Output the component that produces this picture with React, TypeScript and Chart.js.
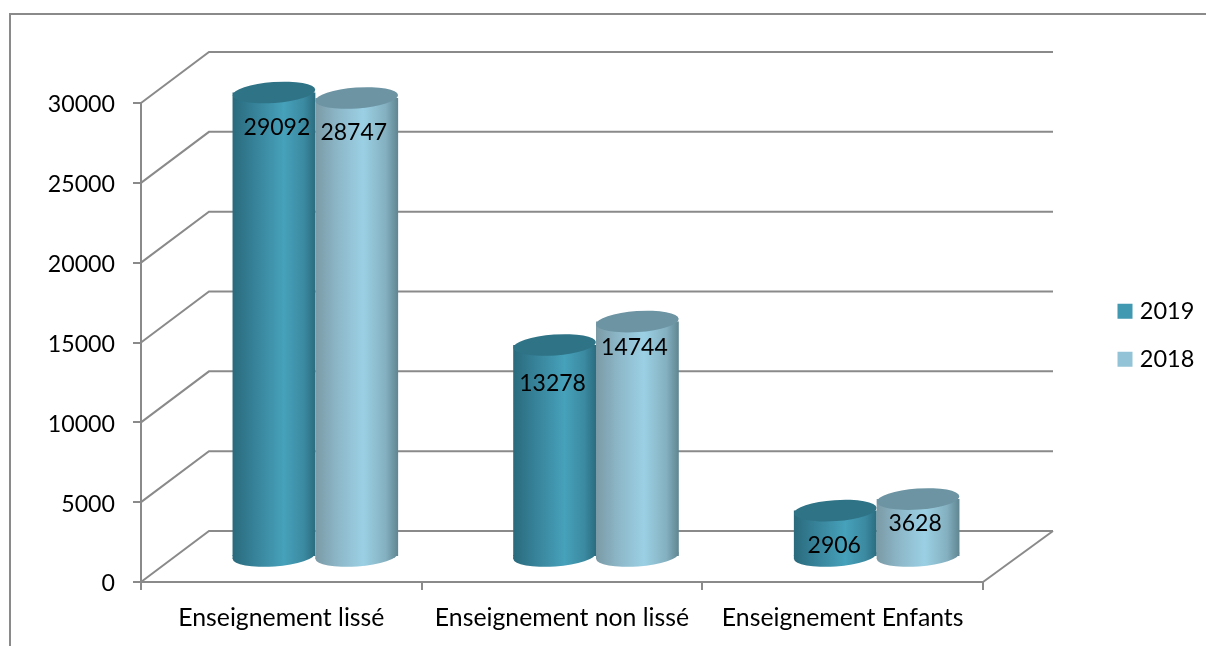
import React, { useEffect, useRef } from "react";
import { Chart, registerables } from "chart.js";

Chart.register(...registerables);

const categories = ["Enseignement lissé", "Enseignement non lissé", "Enseignement Enfants"];
const values2019 = [29092, 13278, 2906];
const values2018 = [28747, 14744, 3628];
const seriesNames = ["2019", "2018"];

const FONT = "Lato, Carlito, sans-serif";
const LINE = "#8a8a8a";
const DEPTH = { x: 68, y: -51 };
const FLOOR_RIGHT_X = 70;
const BAR_SHIFT = { x: 34, y: -25 };
const RY = 10.5;
const TILT = -0.07;
// Nudges of the value labels relative to the top of each cylinder
const labelNudge = [
  [[3, 35], [-2, 39], [-1, 35]],
  [[-3, 35], [-3, 26], [-3, 25]],
];
const palettes = [
  { solid: "#4198b1", top: "#2f7386", stops: [[0, "#2a6a7d"], [0.3, "#38859c"], [0.62, "#46a1ba"], [0.86, "#3b8aa1"], [1, "#2b6c7f"]] },
  { solid: "#93c3d6", top: "#6c94a3", stops: [[0, "#7b9aa6"], [0.28, "#8db8c9"], [0.58, "#9bd0e4"], [0.85, "#84b0c0"], [1, "#5f8591"]] },
];

function gradientFor(ctx: CanvasRenderingContext2D, left: number, right: number, ds: number) {
  const g = ctx.createLinearGradient(left, 0, right, 0);
  palettes[ds].stops.forEach(([o, c]) => g.addColorStop(o as number, c as string));
  return g;
}

const scenePlugin = {
  id: "scene",
  afterLayout(chart: any) {
    const lg = chart.legend;
    if (lg) {
      const w = lg.width, h = lg.height;
      lg.left = 1097.5;
      lg.right = 1097.5 + w;
      lg.top = 275;
      lg.bottom = 275 + h;
    }
  },
  beforeDraw(chart: any) {
    const c = chart.ctx;
    c.save();
    c.strokeStyle = LINE;
    c.lineWidth = 2;
    c.beginPath();
    c.moveTo(10, 646);
    c.lineTo(10, 14);
    c.lineTo(1206, 14);
    c.stroke();
    c.restore();
  },
  beforeDatasetsDraw(chart: any) {
    const c = chart.ctx;
    const { x: xs, y: ys } = chart.scales;
    // back wall gridlines and floor, from the value axis
    c.save();
    c.strokeStyle = LINE;
    c.lineWidth = 2;
    ys.ticks.forEach((t: any) => {
      const y = ys.getPixelForValue(t.value);
      c.beginPath();
      c.moveTo(xs.left, y);
      c.lineTo(xs.left + DEPTH.x, y + DEPTH.y);
      c.lineTo(xs.right + FLOOR_RIGHT_X, y + DEPTH.y);
      c.stroke();
    });
    const y0 = ys.getPixelForValue(0);
    c.beginPath();
    c.moveTo(xs.right, y0);
    c.lineTo(xs.right + FLOOR_RIGHT_X, y0 + DEPTH.y);
    c.stroke();
    c.restore();

    // cylinders, 2019 first so that 2018 overlaps it
    c.save();
    c.translate(BAR_SHIFT.x, BAR_SHIFT.y);
    [0, 1].forEach((ds) => {
      const meta = chart.getDatasetMeta(ds);
      meta.data.forEach((bar: any) => {
        const rx = bar.width / 2;
        c.fillStyle = gradientFor(c, bar.x - rx, bar.x + rx, ds);
        c.beginPath();
        c.ellipse(bar.x, bar.base, rx, RY, TILT, 0, Math.PI * 2);
        c.fill();
        // close the corner left by the tilted base
        c.beginPath();
        c.moveTo(bar.x - rx, bar.base - 1);
        c.lineTo(bar.x - rx, bar.base + rx * Math.sin(-TILT));
        c.lineTo(bar.x, bar.base - 1);
        c.closePath();
        c.fill();
      });
      meta.controller.draw();
      meta.data.forEach((bar: any) => {
        const rx = bar.width / 2;
        c.fillStyle = palettes[ds].top;
        c.beginPath();
        c.ellipse(bar.x, bar.y, rx, RY, TILT, 0, Math.PI * 2);
        c.fill();
      });
    });
    c.restore();

    // value labels above everything
    c.save();
    c.translate(BAR_SHIFT.x, BAR_SHIFT.y);
    c.font = `23px ${FONT}`;
    c.fillStyle = "#000";
    c.textAlign = "center";
    c.textBaseline = "middle";
    [0, 1].forEach((ds) => {
      const meta = chart.getDatasetMeta(ds);
      meta.data.forEach((bar: any, i: number) => {
        const [dx, dy] = labelNudge[ds][i];
        c.fillText(String(chart.data.datasets[ds].data[i]), bar.x + dx, bar.y + dy);
      });
    });
    c.restore();
    return false;
  },
};

function barFill(ds: number) {
  return (ctx: any) => {
    const xs = ctx.chart.scales?.x;
    if (ctx.dataIndex === undefined || !xs || !xs.width) return palettes[ds].solid;
    const catW = xs.width / categories.length;
    const w = (catW * 0.59) / 2;
    const cx = xs.getPixelForTick(ctx.dataIndex);
    const left = ds === 0 ? cx - w : cx;
    return gradientFor(ctx.chart.ctx, left, left + w, ds);
  };
}

// The reference's value labels sit slightly below their tick marks
function lowerTickLabels(s: any) {
  if (s.__lowered) return;
  s.__lowered = true;
  const orig = s._computeLabelItems.bind(s);
  s._computeLabelItems = (area: any) =>
    orig(area).map((it: any) => ({
      ...it,
      options: { ...it.options, translation: [it.options.translation[0], it.options.translation[1] + 2] },
    }));
}

export default function App() {
  const ref = useRef<HTMLCanvasElement | null>(null);
  useEffect(() => {
    const chart = new Chart(ref.current as HTMLCanvasElement, {
      type: "bar",
      data: {
        labels: categories,
        datasets: [
          { label: seriesNames[0], data: values2019, backgroundColor: barFill(0) as any },
          { label: seriesNames[1], data: values2018, backgroundColor: barFill(1) as any },
        ],
      },
      plugins: [scenePlugin as any],
      options: {
        responsive: false,
        animation: false,
        events: [],
        layout: { padding: { left: 0, top: 103, right: 223, bottom: 0 } },
        datasets: { bar: { categoryPercentage: 0.59, barPercentage: 1 } },
        plugins: {
          title: { display: false },
          tooltip: { enabled: false },
          legend: {
            position: "chartArea" as any,
            align: "start",
            labels: {
              usePointStyle: true,
              pointStyle: "rect",
              boxWidth: 6,
              boxHeight: 15,
              padding: 24.5,
              color: "#000",
              font: { family: FONT, size: 23.5 },
              generateLabels: (chart: any) =>
                Chart.defaults.plugins.legend.labels.generateLabels(chart).map((l: any) => ({
                  ...l,
                  fillStyle: palettes[l.datasetIndex].solid,
                  strokeStyle: palettes[l.datasetIndex].solid,
                  lineWidth: 0,
                })),
            },
          },
        },
        scales: {
          x: {
            afterFit: (s: any) => { s.height = 64; },
            border: { color: LINE, width: 2 },
            grid: { drawOnChartArea: false, drawTicks: true, tickLength: 8, color: LINE, lineWidth: 2 },
            ticks: { color: "#000", font: { family: FONT, size: 24.8 }, padding: 13, maxRotation: 0, autoSkip: false },
          },
          y: {
            min: 0,
            max: 30000,
            afterFit: (s: any) => { s.width = 141; },
            afterUpdate: lowerTickLabels,
            border: { color: LINE, width: 2 },
            grid: { drawOnChartArea: false, drawTicks: true, tickLength: 8, color: LINE, lineWidth: 2 },
            ticks: { stepSize: 5000, color: "#000", font: { family: FONT, size: 23.2 }, padding: 18, callback: (v: any) => String(v) },
          },
        },
      },
    } as any);
    return () => chart.destroy();
  }, []);
  return (
    <div style={{ position: "absolute", left: 0, top: 0, width: 1206, height: 646, background: "#fff" }}>
      <canvas ref={ref} width={1206} height={646} style={{ display: "block" }} />
    </div>
  );
}
